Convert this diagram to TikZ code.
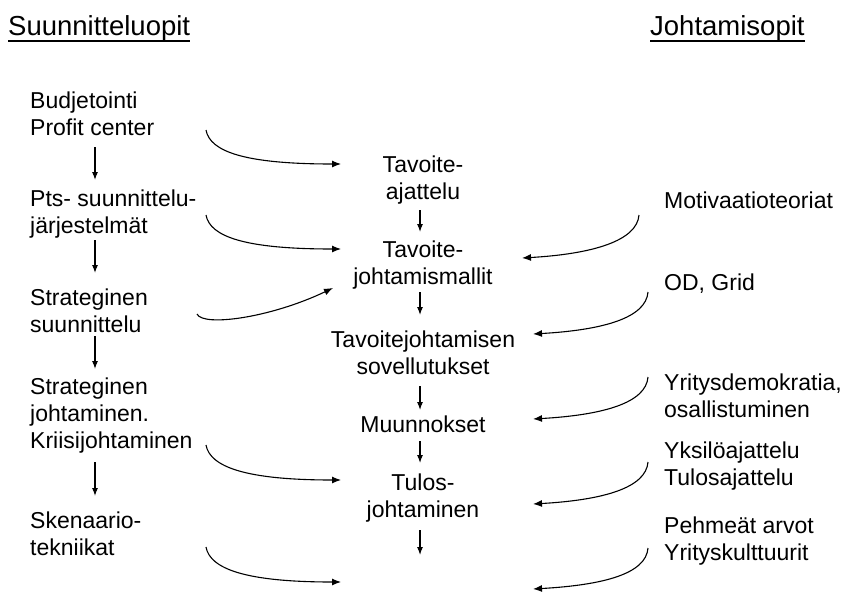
\documentclass[tikz,border=0pt]{standalone}
\usepackage{fontspec}
\setmainfont{Liberation Sans}
\usetikzlibrary{arrows.meta}
\begin{document}
\begin{tikzpicture}[x=1pt,y=-1pt,
  txt/.style={inner sep=0pt, font=\fontsize{23}{27}\selectfont, align=left, anchor=base west},
  ctxt/.style={inner sep=0pt, font=\fontsize{23}{27}\selectfont, align=center, anchor=base},
  head/.style={inner sep=0pt, font=\fontsize{27.5}{30}\selectfont, anchor=base west},
  uline/.style={line width=1.2pt},
  dn/.style={line width=1.1pt, -{Latex[length=8pt,width=6pt]}},
  cv/.style={line width=1.1pt, -{Latex[length=9pt,width=7pt]}}]
\useasboundingbox (0,0) rectangle (856,592);

% column headings (node base = baseline)
\node[head] (h1) at (8,35) {Suunnitteluopit};
\node[head] (h2) at (650,35) {Johtamisopit};
\draw[uline] ([yshift=-6pt]h1.base west) -- ([yshift=-6pt]h1.base east);
\draw[uline] ([yshift=-6pt]h2.base west) -- ([yshift=-6pt]h2.base east);

% planning doctrines (left); node base = baseline of the last line
\node[txt] (b1) at (30,135) {Budjetointi\\Profit center};
\node[txt] (b2) at (30,233) {Pts- suunnittelu-\\järjestelmät};
\node[txt] (b3) at (30,332) {Strateginen\\suunnittelu};
\node[txt] (b4) at (30,448) {Strateginen\\johtaminen.\\Kriisijohtaminen};
\node[txt] (b5) at (30,555) {Skenaario-\\tekniikat};

% management by objectives (middle)
\node[ctxt] (m1) at (423,199) {Tavoite-\\ajattelu};
\node[ctxt] (m2) at (423,284) {Tavoite-\\johtamismallit};
\node[ctxt] (m3) at (423,374) {Tavoitejohtamisen\\sovellutukset};
\node[ctxt] (m4) at (423,432) {Muunnokset};
\node[ctxt] (m5) at (423,517) {Tulos-\\johtaminen};

% management doctrines (right)
\node[txt] (j1) at (664,208) {Motivaatioteoriat};
\node[txt] (j2) at (664,290) {OD, Grid};
\node[txt] (j3) at (664,417) {Yritysdemokratia,\\osallistuminen};
\node[txt] (j4) at (664,485) {Yksilöajattelu\\Tulosajattelu};
\node[txt] (j5) at (664,560) {Pehmeät arvot\\Yrityskulttuurit};

% vertical arrows, left column
\coordinate (ld1) at (95,147); \coordinate (le1) at (95,180);
\coordinate (ld2) at (95,240); \coordinate (le2) at (95,273);
\coordinate (ld3) at (95,336); \coordinate (le3) at (95,369);
\coordinate (ld4) at (95,462); \coordinate (le4) at (95,496);
\draw[dn] (ld1) -- (le1);
\draw[dn] (ld2) -- (le2);
\draw[dn] (ld3) -- (le3);
\draw[dn] (ld4) -- (le4);

% vertical arrows, middle column
\coordinate (md1) at (420,210); \coordinate (me1) at (420,232);
\coordinate (md2) at (420,292); \coordinate (me2) at (420,315);
\coordinate (md3) at (420,386); \coordinate (me3) at (420,410);
\coordinate (md4) at (420,441); \coordinate (me4) at (420,463);
\coordinate (md5) at (420,530); \coordinate (me5) at (420,555);
\draw[dn] (md1) -- (me1);
\draw[dn] (md2) -- (me2);
\draw[dn] (md3) -- (me3);
\draw[dn] (md4) -- (me4);
\draw[dn] (md5) -- (me5);

% curved arrows from the left
\coordinate (ls1) at (206,130); \coordinate (lt1) at (341,164);
\coordinate (ls2) at (206,215); \coordinate (lt2) at (341,249);
\coordinate (ls3) at (197,314); \coordinate (lt3) at (333,288);
\coordinate (ls4) at (206,445); \coordinate (lt4) at (341,480);
\coordinate (ls5) at (206,547); \coordinate (lt5) at (341,582);
\draw[cv] (ls1) .. controls ([shift={(4,22)}]ls1) and ([shift={(-95,0)}]lt1) .. (lt1);
\draw[cv] (ls2) .. controls ([shift={(4,22)}]ls2) and ([shift={(-95,0)}]lt2) .. (lt2);
\draw[cv] (ls3) .. controls (203,327) and (270,318) .. (lt3);
\draw[cv] (ls4) .. controls ([shift={(4,22)}]ls4) and ([shift={(-95,0)}]lt4) .. (lt4);
\draw[cv] (ls5) .. controls ([shift={(4,22)}]ls5) and ([shift={(-95,0)}]lt5) .. (lt5);

% curved arrows from the right
\coordinate (rs1) at (639,215); \coordinate (rt1) at (522,258);
\coordinate (rs2) at (648,292); \coordinate (rt2) at (533,334);
\coordinate (rs3) at (648,377); \coordinate (rt3) at (533,419);
\coordinate (rs4) at (648,462); \coordinate (rt4) at (533,504);
\coordinate (rs5) at (648,548); \coordinate (rt5) at (533,589);
\draw[cv] (rs1) .. controls ([shift={(-2,26)}]rs1) and ([shift={(70,-4)}]rt1) .. (rt1);
\draw[cv] (rs2) .. controls ([shift={(-2,26)}]rs2) and ([shift={(70,-4)}]rt2) .. (rt2);
\draw[cv] (rs3) .. controls ([shift={(-2,26)}]rs3) and ([shift={(70,-4)}]rt3) .. (rt3);
\draw[cv] (rs4) .. controls ([shift={(-2,26)}]rs4) and ([shift={(70,-4)}]rt4) .. (rt4);
\draw[cv] (rs5) .. controls ([shift={(-2,26)}]rs5) and ([shift={(70,-4)}]rt5) .. (rt5);
\end{tikzpicture}
\end{document}
